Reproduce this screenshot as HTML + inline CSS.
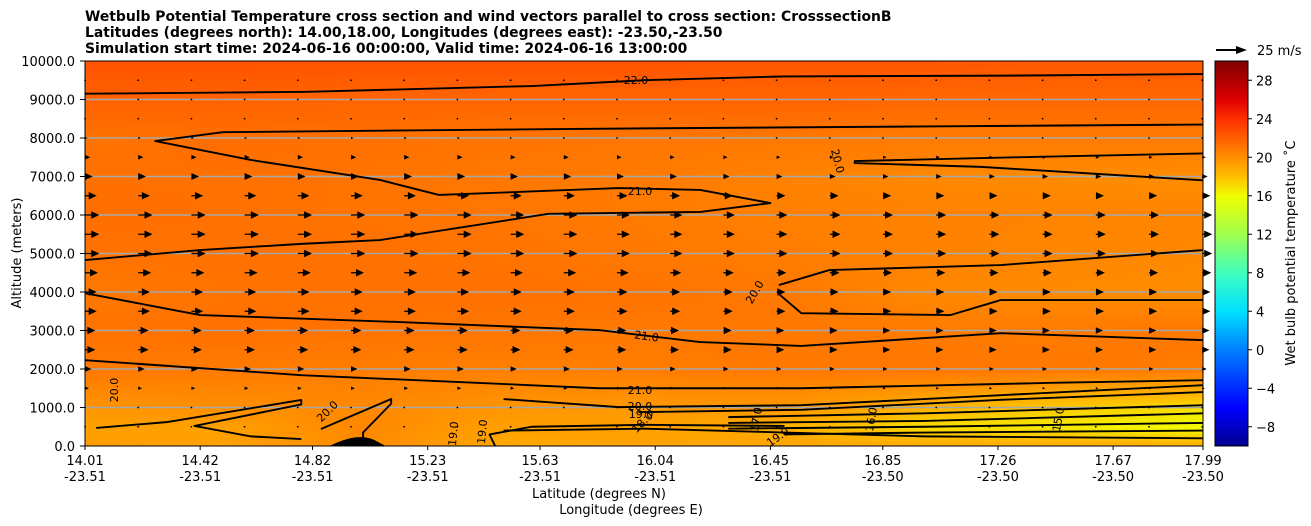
<!DOCTYPE html>
<html><head><meta charset="utf-8"><style>
body{margin:0;background:#fff;width:1311px;height:526px;overflow:hidden;font-family:"DejaVu Sans","Liberation Sans",sans-serif;}
#wrap{position:relative;width:1311px;height:526px;}
svg text{font-family:"DejaVu Sans","Liberation Sans",sans-serif;}
</style></head><body><div id="wrap">
<svg id="svg" width="1311" height="526" style="position:absolute;left:0;top:0">
<text x="85" y="21" font-size="13.9" font-weight="bold">Wetbulb Potential Temperature cross section and wind vectors parallel to cross section: CrosssectionB</text>
<text x="85" y="37" font-size="13.9" font-weight="bold">Latitudes (degrees north): 14.00,18.00, Longitudes (degrees east): -23.50,-23.50</text>
<text x="85" y="53" font-size="13.9" font-weight="bold">Simulation start time: 2024-06-16 00:00:00, Valid time: 2024-06-16 13:00:00</text>
<foreignObject x="85" y="61" width="1118" height="385"><canvas id="cv" width="1118" height="385" xmlns="http://www.w3.org/1999/xhtml" style="display:block"></canvas></foreignObject>
<g id="grid"></g><g id="contours"></g><g id="arrows"></g>
<rect x="85" y="61" width="1118" height="385" fill="none" stroke="#000" stroke-width="1"/>
<g id="yticks"></g><g id="xticks"></g>
<text x="21" y="253" font-size="13" transform="rotate(-90 21 253)" text-anchor="middle">Altitude (meters)</text>
<text x="599" y="498" font-size="13" text-anchor="middle">Latitude (degrees N)</text>
<text x="631" y="514" font-size="13" text-anchor="middle">Longitude (degrees E)</text>
<foreignObject x="1215" y="61" width="33" height="385"><canvas id="cb" width="33" height="385" xmlns="http://www.w3.org/1999/xhtml" style="display:block"></canvas></foreignObject>
<rect x="1215" y="61" width="33" height="385" fill="none" stroke="#000"/>
<g id="cbticks"></g>
<text x="1295" y="253" font-size="13" transform="rotate(-90 1295 253)" text-anchor="middle">Wet bulb potential temperature ˚C</text>
<g><line x1="1216" y1="50" x2="1240" y2="50" stroke="#000" stroke-width="2"/><polygon points="1236,46 1247,50 1236,54" fill="#000"/><text x="1257" y="55" font-size="13">25 m/s</text></g>
</svg></div>
<script>
const lats=[14.0,14.5,15.0,15.5,16.0,16.5,17.0,17.5,18.0];
const alts=[0,500,1000,2000,3000,4000,5000,6000,7000,8000,9000,10000];
const theta=[
[19.5,19.3,20.2,19.0,19.2,19.2,19.0,19.0,18.8],
[19.3,19.3,20.4,19.3,19.4,18.6,17.0,16.6,16.0],
[19.8,20.0,20.3,19.8,19.6,19.7,18.6,17.6,17.0],
[21.0,20.9,20.8,20.7,20.8,21.0,21.1,21.0,20.9],
[21.2,21.3,21.2,21.1,21.0,21.0,20.9,20.9,21.0],
[21.0,21.2,21.3,21.3,21.2,21.0,20.3,20.2,20.1],
[21.2,21.3,21.3,21.2,21.0,20.8,20.6,20.4,20.3],
[21.4,21.3,21.2,21.1,20.9,20.7,20.6,20.5,20.5],
[21.3,21.3,21.2,21.0,20.9,20.6,20.3,20.2,20.1],
[21.2,21.4,21.3,21.2,21.1,21.0,20.9,20.9,20.9],
[21.9,21.9,21.8,21.8,21.8,21.8,21.7,21.7,21.7],
[22.5,22.5,22.5,22.5,22.5,22.4,22.4,22.3,22.3]];
const windAlts=[500,1000,1500,2000,2500,3000,3500,4000,4500,5000,5500,6000,6500,7000,7500,8000,8500,9000,9500];
const windU=[1,1,3,5,8,8,9,9,10,11,11,11,9,6,4,2,1,1,1];
const windCols=[1,1,1,1,1,1,1,1,0.95,0.95,0.9,0.85,0.8,0.75,0.75,0.7,0.7,0.7,0.7,0.7,0.7,0.7];
const yTicks=[0,1000,2000,3000,4000,5000,6000,7000,8000,9000,10000];
const xTickLat=["14.01","14.42","14.82","15.23","15.63","16.04","16.45","16.85","17.26","17.67","17.99"];
const xTickLon=["-23.51","-23.51","-23.51","-23.51","-23.51","-23.51","-23.51","-23.50","-23.50","-23.50","-23.50"];
const cbTicks=[-8,-4,0,4,8,12,16,20,24,28];
const contourLines=[
{v:"22.0",pts:[[14.01,9150],[14.8,9200],[15.6,9350],[16.0,9500],[16.5,9600],[17.3,9620],[17.99,9660]]},
{v:"",pts:[[17.99,8350],[17.0,8300],[16.0,8250],[15.2,8200],[14.5,8150],[14.26,7920],[14.6,7430],[15.06,6910],[15.27,6520],[15.91,6700],[16.2,6650],[16.45,6310],[16.2,6080],[15.66,6030],[15.06,5350],[14.78,5250],[14.42,5090],[14.01,4830]]},
{v:"",pts:[[17.99,7600],[17.2,7480],[16.75,7400],[16.75,7350],[17.2,7250],[17.99,6900]]},
{v:"",pts:[[17.99,5090],[17.27,4700],[16.66,4570],[16.48,4180]]},
{v:"",pts:[[16.48,3950],[16.56,3450],[17.09,3400],[17.27,3790],[17.99,3790]]},
{v:"",pts:[[14.01,3970],[14.42,3400],[15.13,3220],[15.84,3010],[16.2,2700],[16.56,2600],[17.27,2930],[17.99,2750]]},
{v:"",pts:[[14.01,2230],[14.78,1840],[15.84,1500],[16.56,1500],[17.45,1640],[17.99,1710]]},
{v:"",pts:[[15.5,1220],[15.91,1010],[16.56,1060],[17.27,1320],[17.99,1580]]},
{v:"",pts:[[15.98,880],[16.56,940],[17.27,1200],[17.99,1400]]},
{v:"",pts:[[16.3,750],[17.0,850],[17.99,1060]]},
{v:"",pts:[[16.3,600],[17.0,650],[17.99,850]]},
{v:"",pts:[[16.3,450],[17.0,500],[17.99,600]]},
{v:"",pts:[[16.5,300],[17.0,350],[17.99,400]]},
{v:"",pts:[[15.5,400],[16.0,450],[16.5,350],[17.0,250],[17.99,200]]},
{v:"",pts:[[14.05,470],[14.3,620],[14.78,1195],[14.78,1080],[14.4,520],[14.6,250],[14.78,180]]},
{v:"",pts:[[14.85,440],[15.1,1220],[15.1,1100],[15.0,350],[15.0,0]]},
{v:"",pts:[[15.47,0],[15.45,300],[15.6,500],[16.0,550],[16.5,520]]}];
const X=l=>85+(l-14.01)/(17.99-14.01)*1118;
const Y=a=>446-a/10000*385;
const NS="http://www.w3.org/2000/svg";
function mk(t,a,p){const e=document.createElementNS(NS,t);for(const k in a)e.setAttribute(k,a[k]);p.appendChild(e);return e;}
const cstops=[[-10,[0,0,139]],[-6,[0,0,255]],[0,[0,128,255]],[4,[0,224,255]],[8,[64,255,192]],[12,[160,255,80]],[16,[240,255,0]],[18,[255,192,0]],[20,[255,144,0]],[22,[255,96,0]],[24,[255,48,0]],[26,[224,0,0]],[30,[128,0,0]]];
function cmap(v){for(let i=1;i<cstops.length;i++){if(v<=cstops[i][0]){const [a,ca]=cstops[i-1],[b,cb]=cstops[i];const t=Math.max(0,(v-a)/(b-a));return ca.map((c,j)=>Math.round(c+(cb[j]-c)*t));}}return cstops[cstops.length-1][1];}
function interp(lat,alt){let i=0;while(i<alts.length-2&&alt>alts[i+1])i++;let j=0;while(j<lats.length-2&&lat>lats[j+1])j++;
const ty=Math.min(1,Math.max(0,(alt-alts[i])/(alts[i+1]-alts[i]))),tx=Math.min(1,Math.max(0,(lat-lats[j])/(lats[j+1]-lats[j])));
const a=theta[i][j]*(1-tx)+theta[i][j+1]*tx,b=theta[i+1][j]*(1-tx)+theta[i+1][j+1]*tx;return a*(1-ty)+b*ty;}
const cv=document.getElementById('cv'),ctx=cv.getContext('2d'),img=ctx.createImageData(1118,385);
for(let y=0;y<385;y++)for(let x=0;x<1118;x++){const lat=14.01+x/1118*3.98,alt=(385-y)/385*10000;const c=cmap(interp(lat,alt));const k=(y*1118+x)*4;img.data[k]=c[0];img.data[k+1]=c[1];img.data[k+2]=c[2];img.data[k+3]=255;}
ctx.putImageData(img,0,0);
const cb=document.getElementById('cb').getContext('2d');
for(let y=0;y<385;y++){const v=30-y/385*40;const c=cmap(v);cb.fillStyle=`rgb(${c})`;cb.fillRect(0,y,33,1);}
const g=document.getElementById('grid'),yt=document.getElementById('yticks'),xt=document.getElementById('xticks'),ct=document.getElementById('contours'),ar=document.getElementById('arrows'),cbt=document.getElementById('cbticks');
yTicks.forEach(a=>{const y=Y(a);
if(a>0&&a<10000){const l=mk('line',{x1:85,x2:1203,y1:y,y2:y,stroke:'#a8a8a8','stroke-width':1.5},g);

}
mk('line',{x1:80,x2:85,y1:y,y2:y,stroke:'#000'},yt);
const t=mk('text',{x:75,y:y+5,'font-size':13,'text-anchor':'end'},yt);t.textContent=a.toFixed(1);

});
xTickLat.forEach((s,i)=>{const x=X(parseFloat(s));mk('line',{x1:x,x2:x,y1:446,y2:450,stroke:'#000'},xt);
const t=mk('text',{x:x,y:465,'font-size':13,'text-anchor':'middle'},xt);t.textContent=s;


const t2=mk('text',{x:x,y:481,'font-size':13,'text-anchor':'middle'},xt);t2.textContent=xTickLon[i];

});
contourLines.forEach(c=>{const p=mk('polyline',{points:c.pts.map(q=>X(q[0])+','+Y(q[1])).join(' '),fill:'none',stroke:'#000','stroke-width':1.9,'stroke-linejoin':'round'},ct);

});
[["22.0",636,84,0],["21.0",640,195,0],["21.0",646,340,8],["21.0",640,394,0],["20.0",640,410,0],["19.0",641,418,0],["20.0",118,390,-90],["20.0",330,414,-45],["20.0",834,162,75],["20.0",758,294,-60],["18.0",645,425,-45],["17.0",760,420,-80],["16.0",875,420,-80],["15.0",1062,420,-80],["19.0",457,434,-85],["19.0",486,432,-85],["19.0",780,440,-35]].forEach(l=>{
const t=mk('text',{x:l[1],y:l[2],'font-size':11,'text-anchor':'middle',transform:`rotate(${l[3]} ${l[1]} ${l[2]})`},ct);t.textContent=l[0];

});
const terr=mk('path',{d:`M${X(14.88)},446 Q${X(14.98)},432 ${X(15.04)},440 L${X(15.08)},446 Z`,fill:'#000'},ct);


windAlts.forEach((a,i)=>{windCols.forEach((f,j)=>{const x=85+j*53.2,y=Y(a);const L=windU[i]*f*1.3;
if(L<2.5){const d=mk('circle',{cx:x,cy:y,r:0.9,fill:'#000'},ar);

return;}
const h=Math.min(L,8),w=Math.min(3.8,L*0.45);
const p=mk('polygon',{points:`${x},${y-0.6} ${x+L-h},${y-0.6} ${x+L-h},${y-w} ${x+L},${y} ${x+L-h},${y+w} ${x+L-h},${y+0.6} ${x},${y+0.6}`,fill:'#000'},ar);

});});
cbTicks.forEach(v=>{const y=61+(30-v)/40*385;mk('line',{x1:1248,x2:1252,y1:y,y2:y,stroke:'#000'},cbt);
const t=mk('text',{x:1256,y:y+5,'font-size':13},cbt);t.textContent=v<0?'\u2212'+(-v):v;

});
</script></body></html>
